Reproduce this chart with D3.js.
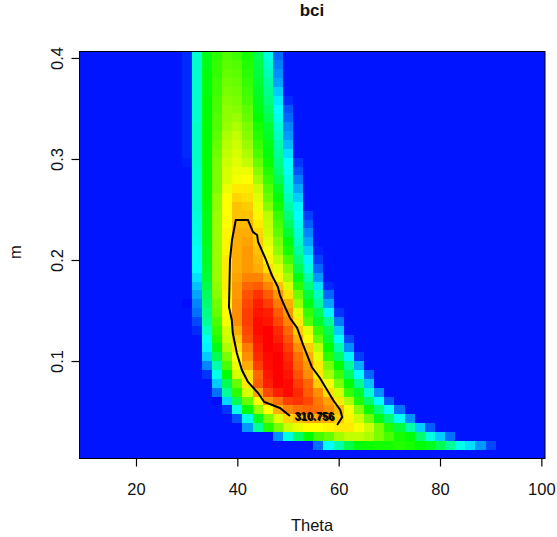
<!DOCTYPE html>
<html><head><meta charset="utf-8">
<script src="https://cdn.jsdelivr.net/npm/d3@7/dist/d3.min.js"></script>
<style>html,body{margin:0;padding:0;background:#fff}svg{display:block}text{font-family:"Liberation Sans",Arial,sans-serif;fill:#111}</style>
</head><body><svg id="c" width="557" height="537"></svg>
<script>
const titleText = "bci", xLabel = "Theta", yLabel = "m";
const xTicks = [20,40,60,80,100];
const yTicks = [0.1,0.2,0.3,0.4];
const contourLabel = "310.756";
const thetaCentres = [10,12,14,16,18,20,22,24,26,28,30,32,34,36,38,40,42,44,46,48,50,52,54,56,58,60,62,64,66,68,70,72,74,76,78,80,82,84,86,88,90,92,94,96,98,100];
const backgroundLevel = 2;
// first grid column of each row (top row first), then levels on a 0-100 colour ramp
const rowStart = [10,10,10,10,10,10,10,10,10,10,10,10,10,10,10,10,10,10,10,10,10,10,10,10,10,10,10,10,10,11,11,11,11,12,12,12,12,13,13,13,14,15,16,19,23];
const rowLevels = [
[4,30,48,54,58,56,52,42,28,10,2],
[4,30,48,55,59,58,53,43,30,12,2],
[4,30,49,55,60,59,54,44,32,14,2],
[4,30,49,56,61,60,55,45,34,16,2],
[4,30,49,56,62,61,56,46,36,20,2],
[4,30,50,57,63,62,57,47,38,23,4],
[4,30,50,57,64,63,59,48,40,25,8],
[4,30,50,58,64,65,60,50,42,27,10],
[4,31,50,58,65,67,62,52,45,29,13],
[4,31,50,59,67,69,63,53,46,31,15],
[4,31,50,60,68,70,65,55,48,33,18],
[4,31,50,61,69,71,67,57,49,35,22],
[3,31,50,62,70,72,69,60,51,37,25,5],
[2,30,50,62,71,73,73,63,53,39,26,8],
[2,30,50,62,71,74,75,66,55,42,28,12],
[2,30,50,62,73,77,77,70,58,46,29,16],
[2,30,50,64,75,79,78,72,60,49,31,20],
[2,30,49,64,75,81,80,73,63,52,34,24],
[2,29,48,65,75,81,81,76,68,55,38,25,6],
[2,28,48,65,75,82,82,77,69,57,41,27,9],
[2,28,48,65,76,83,83,79,70,59,45,29,13],
[2,27,48,65,76,83,84,80,72,62,49,31,16],
[2,26,47,65,76,83,85,81,74,64,52,34,20,3],
[2,26,47,65,77,83,85,82,76,68,57,38,24,6],
[2,25,46,65,77,83,85,83,78,72,62,42,28,10],
[2,22,45,65,77,84,87,87,83,76,66,48,33,15,2],
[2,19,43,64,77,85,90,91,87,81,71,54,38,22,4],
[2,16,41,63,76,85,92,95,91,85,78,61,44,31,10,2],
[1,13,39,61,75,86,93,97,94,88,83,65,48,35,16,2],
[11,37,60,75,86,94,98,97,91,85,72,55,42,24,5],
[7,35,57,74,86,94,99,98,93,87,77,58,46,35,12],
[4,31,55,71,83,93,99,100,96,90,80,72,55,42,20,2],
[2,26,53,70,80,92,98,100,97,92,83,75,60,45,25,7],
[24,48,67,78,88,97,100,99,94,86,80,68,50,33,14,2],
[20,42,62,75,86,96,99,100,96,89,83,72,54,40,24,6],
[13,33,57,73,83,94,99,100,97,90,85,77,62,50,35,17,2],
[5,27,50,71,78,90,98,100,98,92,86,77,66,56,41,25,10],
[20,42,60,77,91,97,100,99,94,90,80,74,62,50,36,19,2],
[11,35,54,71,84,93,97,99,96,91,86,78,71,55,46,29,14],
[1,21,42,60,75,85,89,94,95,93,88,84,77,67,53,40,25,9],
[5,27,49,65,75,83,87,89,90,89,86,82,74,63,51,38,25,11],
[8,27,47,62,72,79,81,83,83,83,80,76,70,61,48,39,26,14,2],
[15,35,53,62,70,73,75,75,76,77,77,74,70,62,53,44,33,20,9],
[14,28,40,50,57,60,66,69,69,67,62,57,52,49,39,28,20,11],
[11,25,33,43,49,51,52,52,53,52,50,47,42,35,27,22,15,7]
];
const contourTheta = [50.4,48.4,45.3,44.1,42.1,40.9,39.9,39.1,38.9,38.35,38.55,38.95,39.7,42.1,43.1,43.9,44.1,45.5,46.8,48.0,48.4,49.4,50.4,51.8,53.0,54.7,56.3,58.9,60.3,60.7,59.7];
const contourM = [0.0455,0.0535,0.0594,0.0683,0.0792,0.0911,0.1079,0.1277,0.1406,0.1535,0.2,0.2198,0.2396,0.2396,0.2277,0.2248,0.2178,0.202,0.1851,0.1733,0.1653,0.1535,0.1426,0.1327,0.1158,0.0941,0.0832,0.0614,0.0515,0.0446,0.0366];
const labelTheta = 55.2, labelM = 0.0415;

const svg = d3.select("#c");
const L=79.5,R=545,T=51.5,B=458.5;
const x = d3.scaleLinear().domain([8.85,100.72]).range([L,R]);
const y = d3.scaleLinear().domain([0.0035,0.4064]).range([B,T]);
const rowStep = (y.domain()[1]-y.domain()[0])/46;
const colour = v => d3.hsl(240*(1-v/100),1,0.5).toString();

svg.append("defs").append("clipPath").attr("id","plot").append("rect")
  .attr("x",L).attr("y",T).attr("width",R-L).attr("height",B-T);
const g = svg.append("g").attr("clip-path","url(#plot)");
g.append("rect").attr("x",L).attr("y",T).attr("width",R-L).attr("height",B-T).attr("fill",colour(backgroundLevel));

const cells = [];
rowLevels.forEach((row,k)=>row.forEach((v,i)=>{
  cells.push({theta:thetaCentres[rowStart[k]+i], mTop:y.domain()[1]-k*rowStep, v});
}));
g.selectAll("rect.cell").data(cells).join("rect").attr("class","cell")
  .attr("x",d=>x(d.theta-1)).attr("width",d=>x(d.theta+1)-x(d.theta-1))
  .attr("y",d=>y(d.mTop)).attr("height",d=>y(d.mTop-rowStep)-y(d.mTop))
  .attr("fill",d=>colour(d.v)).attr("shape-rendering","crispEdges");

const line = d3.line().x(d=>x(d[0])).y(d=>y(d[1]));
g.append("path").attr("d",line(contourTheta.map((t,i)=>[t,contourM[i]])))
  .attr("fill","none").attr("stroke","#000").attr("stroke-width",2);
[[0,0],[1,0.4]].forEach(o=>{
  g.append("text").attr("x",x(labelTheta)+o[0]).attr("y",y(labelM)+o[1]).attr("text-anchor","middle")
   .attr("font-size",11).attr("font-weight","bold").style("fill","#000").text(contourLabel);
});

svg.append("rect").attr("x",L).attr("y",T).attr("width",R-L).attr("height",B-T)
  .attr("fill","none").attr("stroke","#000").attr("stroke-width",1);

const ax = svg.append("g").attr("transform",`translate(0,${B})`)
  .call(d3.axisBottom(x).tickValues(xTicks).tickSizeOuter(0).tickSize(8).tickPadding(15).tickFormat(d3.format("d")));
ax.select(".domain").remove();
ax.selectAll("line").attr("stroke","#000").attr("stroke-width",1.2);
ax.selectAll("text").attr("font-size",16.5).attr("y",36.5).attr("dy",null);

const ay = svg.append("g").attr("transform",`translate(${L},0)`)
  .call(d3.axisLeft(y).tickValues(yTicks).tickSizeOuter(0).tickSize(8).tickFormat(d3.format(".1f")));
ay.select(".domain").remove();
ay.selectAll("line").attr("stroke","#000").attr("stroke-width",1.2);
ay.selectAll("text").attr("font-size",16.5).attr("x",null).attr("dy",null)
  .attr("text-anchor","middle").attr("transform","translate(-17,0) rotate(-90)");

svg.append("text").attr("x",312).attr("y",16).attr("text-anchor","middle").attr("font-size",17).attr("font-weight","bold").text(titleText);
svg.append("text").attr("x",312).attr("y",531).attr("text-anchor","middle").attr("font-size",16.5).text(xLabel);
svg.append("text").attr("transform","translate(21,252) rotate(-90)").attr("text-anchor","middle").attr("font-size",16.5).text(yLabel);
</script></body></html>
